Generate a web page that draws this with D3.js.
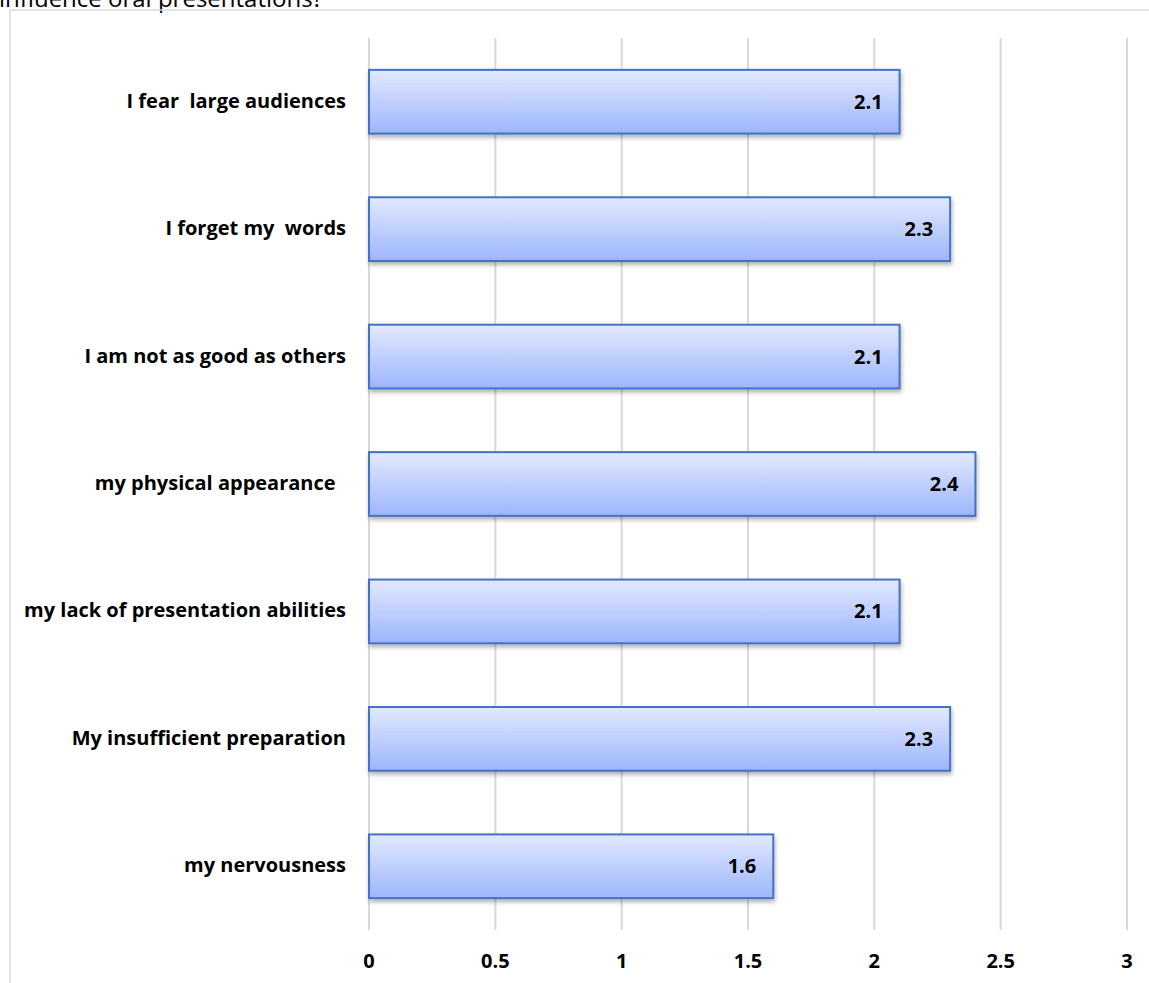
<!DOCTYPE html>
<html lang="en">
<head>
  <meta charset="UTF-8">
  <title>Oral presentations</title>
  <script src="https://d3js.org/d3.v7.min.js"></script>
  <style>
    body { margin: 0; background: #ffffff; }
    .lbl { font-family: "Open Sans", Lato, sans-serif; font-weight: bold; fill: #000; font-size: 20px; }
  </style>
</head>
<body>
<script>
// data
var categories = ['I fear  large audiences', 'I forget my  words', 'I am not as good as others',
  'my physical appearance  ', 'my lack of presentation abilities', 'My insufficient preparation', 'my nervousness'];
var values = [2.1, 2.3, 2.1, 2.4, 2.1, 2.3, 1.6];
var ticks = [0, 0.5, 1, 1.5, 2, 2.5, 3];

var W = 1149, H = 983;
var svg = d3.select('body').append('svg')
  .attr('width', W).attr('height', H);

var defs = svg.append('defs');
var grad = defs.append('linearGradient')
  .attr('id', 'barGrad').attr('x1', 0).attr('y1', 0).attr('x2', 0).attr('y2', 1);
grad.append('stop').attr('offset', '0%').attr('stop-color', '#e2e9ff');
grad.append('stop').attr('offset', '100%').attr('stop-color', '#9db6fb');

var shadow = defs.append('filter').attr('id', 'shadow')
  .attr('x', '-5%').attr('y', '-20%').attr('width', '110%').attr('height', '150%');
shadow.append('feDropShadow')
  .attr('dx', 1).attr('dy', 3).attr('stdDeviation', 2)
  .attr('flood-color', '#000').attr('flood-opacity', 0.3);

// title, cut off at the top like in the original screenshot
svg.append('text')
  .attr('x', -1).attr('y', 7)
  .style('font-family', '"Open Sans", sans-serif')
  .style('font-size', '24px')
  .style('fill', '#000')
  .text('influence oral presentations?');

// chart frame
svg.append('rect')
  .attr('x', 10).attr('y', 10)
  .attr('width', W + 20).attr('height', H + 20)
  .attr('fill', 'none').attr('stroke', '#d9d9d9').attr('stroke-width', 1.5);

var x = d3.scaleLinear().domain([0, 3]).range([369, 1127]);
var y = d3.scaleBand().domain(categories).range([38, 930]).paddingInner(0.5).paddingOuter(0.25);

// gridlines
svg.append('g').selectAll('line')
  .data(ticks).enter().append('line')
  .attr('x1', function(d) { return x(d); })
  .attr('x2', function(d) { return x(d); })
  .attr('y1', 38).attr('y2', 930)
  .attr('stroke', '#d9d9d9').attr('stroke-width', 2);

// x tick labels
svg.append('g').selectAll('text')
  .data(ticks).enter().append('text')
  .attr('class', 'lbl')
  .attr('x', function(d) { return x(d); })
  .attr('y', 968)
  .attr('text-anchor', 'middle')
  .text(function(d) { return d; });

// bars
var bars = svg.append('g').selectAll('g')
  .data(values).enter().append('g');

bars.append('rect')
  .attr('x', x(0))
  .attr('y', function(d, i) { return y(categories[i]); })
  .attr('width', function(d) { return x(d) - x(0); })
  .attr('height', y.bandwidth())
  .attr('fill', 'url(#barGrad)')
  .attr('stroke', '#4472c4').attr('stroke-width', 2)
  .attr('filter', 'url(#shadow)');

bars.append('text')
  .attr('class', 'lbl')
  .attr('x', function(d) { return x(d) - 17; })
  .attr('y', function(d, i) { return y(categories[i]) + y.bandwidth() / 2 + 7; })
  .attr('text-anchor', 'end')
  .text(function(d) { return d; });

// category labels
svg.append('g').selectAll('text')
  .data(categories).enter().append('text')
  .attr('class', 'lbl')
  .attr('x', 346)
  .attr('y', function(d) { return y(d) + y.bandwidth() / 2 + 6; })
  .attr('text-anchor', 'end')
  .style('white-space', 'pre')
  .text(function(d) { return d; });
</script>
</body>
</html>
